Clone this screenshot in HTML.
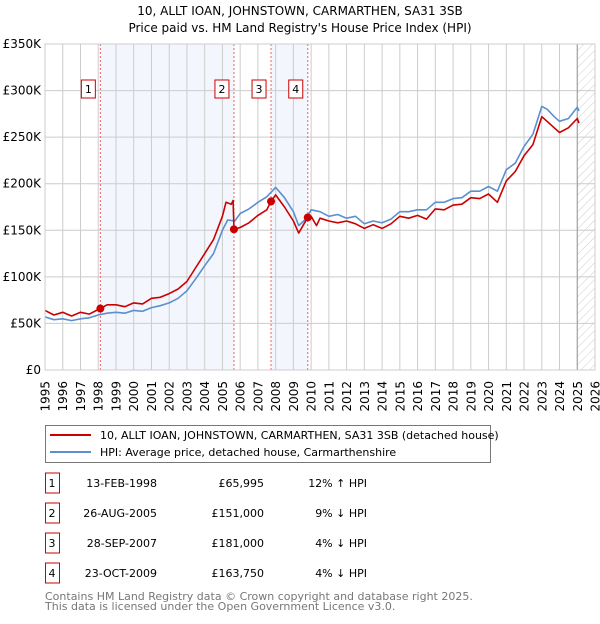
<!DOCTYPE html>
<html><head><meta charset="utf-8"><style>
body{margin:0;background:#fff;font-family:"DejaVu Sans","Liberation Sans",sans-serif;}
svg text{font-family:"DejaVu Sans","Liberation Sans",sans-serif;}
</style></head><body>
<svg id="chart" width="600" height="620" xmlns="http://www.w3.org/2000/svg">
<defs><pattern id="hatch" width="6" height="6" patternUnits="userSpaceOnUse" patternTransform="rotate(45)"><line x1="0" y1="0" x2="0" y2="6" stroke="#ccc" stroke-width="1"/></pattern></defs>
<text x="300" y="15" text-anchor="middle" font-size="12">10, ALLT IOAN, JOHNSTOWN, CARMARTHEN, SA31 3SB</text>
<text x="300" y="32" text-anchor="middle" font-size="12">Price paid vs. HM Land Registry's House Price Index (HPI)</text>
<g id="plot"></g>
<g>
<rect x="45.5" y="425.5" width="445" height="37" fill="#fff" stroke="#777"/>
<line x1="50" y1="435" x2="91" y2="435" stroke="#cc0000" stroke-width="2"/>
<text x="100" y="439" font-size="11">10, ALLT IOAN, JOHNSTOWN, CARMARTHEN, SA31 3SB (detached house)</text>
<line x1="50" y1="452" x2="91" y2="452" stroke="#5b8fd0" stroke-width="2"/>
<text x="100" y="456" font-size="11">HPI: Average price, detached house, Carmarthenshire</text>
</g>
<g id="table" font-size="11"></g>
<text x="45" y="600" font-size="11" fill="#777">Contains HM Land Registry data © Crown copyright and database right 2025.</text>
<text x="45" y="610" font-size="11" fill="#777">This data is licensed under the Open Government Licence v3.0.</text>
</svg>
<script>
const hpiDates=[1995,1995.5,1996,1996.5,1997,1997.5,1998,1998.5,1999,1999.5,2000,2000.5,2001,2001.5,2002,2002.5,2003,2003.5,2004,2004.5,2005,2005.3,2005.7,2006,2006.5,2007,2007.5,2008,2008.5,2009,2009.3,2009.7,2010,2010.5,2011,2011.5,2012,2012.5,2013,2013.5,2014,2014.5,2015,2015.5,2016,2016.5,2017,2017.5,2018,2018.5,2019,2019.5,2020,2020.5,2021,2021.5,2022,2022.5,2023,2023.3,2023.7,2024,2024.5,2025,2025.1];
const hpiValues=[57,54,55,53,55,56,59,61,62,61,64,63,67,69,72,77,85,98,112,125,150,161,160,168,173,180,186,196,185,170,155,162,172,170,165,167,163,165,157,160,158,162,170,170,172,172,180,180,184,185,192,192,197,192,215,222,240,253,283,280,272,267,270,282,278];
const propDates=[1995,1995.5,1996,1996.5,1997,1997.5,1998,1998.12,1998.5,1999,1999.5,2000,2000.5,2001,2001.5,2002,2002.5,2003,2003.5,2004,2004.5,2005,2005.2,2005.5,2005.6,2005.65,2006,2006.5,2007,2007.5,2007.74,2008,2008.5,2009,2009.3,2009.6,2009.81,2010,2010.3,2010.5,2011,2011.5,2012,2012.5,2013,2013.5,2014,2014.5,2015,2015.5,2016,2016.5,2017,2017.5,2018,2018.5,2019,2019.5,2020,2020.5,2021,2021.5,2022,2022.5,2023,2023.3,2023.7,2024,2024.5,2025,2025.1];
const propValues=[64,59,62,58,62,60,65,66,70,70,68,72,71,77,78,82,87,95,110,125,140,165,180,178,182,151,153,158,166,172,181,188,175,160,147,157,163.75,165,155,163,160,158,160,157,152,156,152,157,165,163,166,162,173,172,177,178,185,184,189,180,203,213,230,242,272,267,260,255,260,270,265];
const saleDates=[1998.12,2005.65,2007.74,2009.81];
const saleValues=[65.995,151,181,163.75];
const saleLabels=["1","2","3","4"];
const saleDateText=["13-FEB-1998","26-AUG-2005","28-SEP-2007","23-OCT-2009"];
const salePriceText=["£65,995","£151,000","£181,000","£163,750"];
const saleHpiText=["12% ↑ HPI","9% ↓ HPI","4% ↓ HPI","4% ↓ HPI"];
const yTicks=[0,50,100,150,200,250,300,350];
const yTickLabels=["£0","£50K","£100K","£150K","£200K","£250K","£300K","£350K"];
const xTicks=[1995,1996,1997,1998,1999,2000,2001,2002,2003,2004,2005,2006,2007,2008,2009,2010,2011,2012,2013,2014,2015,2016,2017,2018,2019,2020,2021,2022,2023,2024,2025,2026];
const ns="http://www.w3.org/2000/svg";
const X0=45,X1=595,Y0=370,Y1=44;
const x=v=>X0+(v-1995)/31*(X1-X0);
const y=v=>Y0-v/350*(Y0-Y1);
const plot=document.getElementById('plot');
function mk(tag,attrs,parent){const e=document.createElementNS(ns,tag);for(const k in attrs)e.setAttribute(k,attrs[k]);(parent||plot).appendChild(e);return e;}
let r=mk('rect',{x:x(saleDates[0]),y:Y1,width:x(saleDates[1])-x(saleDates[0]),height:Y0-Y1,fill:'#eef2fc',opacity:0.7});


r=mk('rect',{x:x(saleDates[2]),y:Y1,width:x(saleDates[3])-x(saleDates[2]),height:Y0-Y1,fill:'#eef2fc',opacity:0.7});


r=mk('rect',{x:x(2025.0),y:Y1,width:X1-x(2025.0),height:Y0-Y1,fill:'url(#hatch)'});


yTicks.forEach((t,i)=>{
 const l=mk('line',{x1:X0,x2:X1,y1:y(t),y2:y(t),stroke:'#ccc'});
 
 
 const tx=mk('text',{x:X0-4,y:y(t)+4,'text-anchor':'end','font-size':'12'});
 tx.textContent=yTickLabels[i];
 
 
});
xTicks.forEach(t=>{
 const l=mk('line',{x1:x(t),x2:x(t),y1:Y1,y2:Y0,stroke:'#ccc'});
 
 
 const tx=mk('text',{x:0,y:0,'text-anchor':'end','font-size':'12',transform:'translate('+(x(t)+4.5)+','+(Y0+11)+') rotate(-90)'});
 tx.textContent=t;
 
 
});
let v=mk('line',{x1:x(2025.0),x2:x(2025.0),y1:Y1,y2:Y0,stroke:'#999'});


saleDates.forEach((d,i)=>{
 const l=mk('line',{x1:x(d),x2:x(d),y1:Y1,y2:Y0,stroke:'#f06060','stroke-dasharray':'2,2'});
 
 
});
function line(dates,vals,color,name){
 const p=mk('path',{d:dates.map((d,i)=>(i?'L':'M')+x(d).toFixed(1)+','+y(vals[i]).toFixed(1)).join(''),fill:'none',stroke:color,'stroke-width':1.6,'stroke-linejoin':'round'});
 
 
}
line(hpiDates,hpiValues,'#5b8fd0','hpi-line');
line(propDates,propValues,'#cc0000','property-price-line');
saleDates.forEach((d,i)=>{
 const c=mk('circle',{cx:x(d),cy:y(saleValues[i]),r:4,fill:'#cc0000'});
 
 
 const b=mk('rect',{x:x(d)-19,y:80,width:14,height:18,fill:'#fff',stroke:'#cc0000'});
 
 
 const t=mk('text',{x:x(d)-12,y:93,'text-anchor':'middle','font-size':'11'});
 t.textContent=saleLabels[i];
 
 
});
const bx=mk('rect',{x:X0,y:Y1,width:X1-X0,height:Y0-Y1,fill:'none',stroke:'#ccc'});


const tb=document.getElementById('table');
saleLabels.forEach((l,i)=>{
 const cy=483+i*30;
 const b=mk('rect',{x:45.5,y:cy-10,width:14,height:20,fill:'#fff',stroke:'#cc0000'},tb);
 
 
 const cells=[[52,'middle',l,'table-label'],[157,'end',saleDateText[i],'table-date'],[264,'end',salePriceText[i],'table-price'],[367,'end',saleHpiText[i],'table-hpi-diff']];
 cells.forEach(c=>{
  const t=mk('text',{x:c[0],y:cy+4,'text-anchor':c[1]},tb);
  t.textContent=c[2];
  
  
 });
});
</script>
</body></html>
